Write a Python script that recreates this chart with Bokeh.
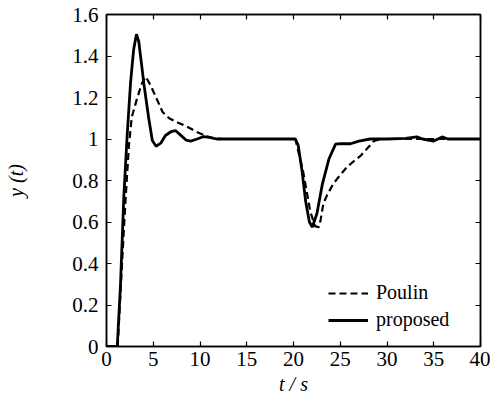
from bokeh.plotting import figure
from bokeh.models import (LinearAxis, FixedTicker, Range1d, Legend, LegendItem)
from bokeh.embed import file_html
from bokeh.resources import INLINE

# ---- data ----
t_proposed = [0, 1.15, 1.5, 1.85, 2.2, 2.57, 2.9, 3.2, 3.45, 3.75, 4.0, 4.5, 4.9, 5.3, 5.8,
              6.3, 6.9, 7.4, 7.9, 8.5, 9.0, 9.7, 10.4, 11.0, 11.8, 20.2, 20.5, 20.9, 21.3,
              21.7, 22.0, 22.5, 23.1, 23.8, 24.5, 25.0, 26.1, 27.0, 28.2, 30, 32, 33.2, 33.8,
              35.0, 35.9, 36.5, 40]
y_proposed = [0, 0, 0.3, 0.72, 1.01, 1.27, 1.43, 1.505, 1.47, 1.36, 1.265, 1.105, 0.993, 0.965,
              0.98, 1.017, 1.035, 1.04, 1.02, 0.995, 0.99, 1.0, 1.012, 1.008, 1.0, 1.0, 0.97,
              0.85, 0.7, 0.6, 0.575, 0.64, 0.785, 0.905, 0.975, 0.978, 0.977, 0.99, 1.0, 1.0,
              1.003, 1.01, 1.0, 0.99, 1.01, 1.0, 1.0]

t_poulin = [0, 1.2, 1.6, 2.0, 2.4, 2.7, 3.3, 3.8, 4.2, 4.7, 5.3, 6.0, 6.7, 7.6, 8.6, 9.6,
            10.6, 11.5, 12.5, 20.2, 21.0, 21.8, 22.3, 22.7, 22.9, 23.2, 23.6, 24.2, 24.7,
            25.7, 26.5, 27.2, 28.0, 28.6, 29.3, 40]
y_poulin = [0, 0, 0.35, 0.68, 0.97, 1.105, 1.2, 1.27, 1.30, 1.26, 1.2, 1.13, 1.10, 1.08, 1.06,
            1.035, 1.015, 1.003, 1.0, 1.0, 0.85, 0.65, 0.58, 0.575, 0.61, 0.69, 0.73, 0.78,
            0.81, 0.864, 0.895, 0.92, 0.96, 0.99, 1.0, 1.0]

x_ticks = [0, 5, 10, 15, 20, 25, 30, 35, 40]
y_ticks = [0, 0.2, 0.4, 0.6, 0.8, 1.0, 1.2, 1.4, 1.6]
y_tick_labels = ["0", "0.2", "0.4", "0.6", "0.8", "1", "1.2", "1.4", "1.6"]

FONT = "'Liberation Serif', 'DejaVu Serif', serif"

p = figure(width=490, height=407, output_backend="svg", toolbar_location=None,
           x_range=Range1d(0, 40), y_range=Range1d(0, 1.6),
           min_border_left=106, min_border_right=10, min_border_top=14, min_border_bottom=61,
           x_axis_type=None, y_axis_type=None)
p.grid.visible = False
p.outline_line_color = "black"
p.outline_line_width = 1.5
p.background_fill_color = "white"
p.border_fill_color = "white"

def style_axis(ax, ticks, labels=True):
    ax.ticker = FixedTicker(ticks=ticks)
    ax.major_tick_in = 5
    ax.major_tick_out = 0
    ax.minor_tick_line_color = None
    ax.axis_line_width = 1.5
    ax.major_tick_line_width = 1.2
    ax.major_label_text_font = FONT
    ax.major_label_text_font_size = "21px"
    ax.major_label_text_color = "black" if labels else None
    ax.major_label_standoff = 8

xb = LinearAxis()
style_axis(xb, x_ticks)
xb.major_label_standoff = 5
xb.axis_label = "t / s"
xb.axis_label_text_font = FONT
xb.axis_label_text_font_style = "italic"
xb.axis_label_text_font_size = "20px"
xb.axis_label_text_color = "black"
xb.axis_label_standoff = 4
p.add_layout(xb, "below")

yl = LinearAxis()
style_axis(yl, y_ticks)
yl.major_label_overrides = {v: s for v, s in zip(y_ticks, y_tick_labels)}
yl.axis_label = "y (t)"
yl.axis_label_text_font = FONT
yl.axis_label_text_font_style = "italic"
yl.axis_label_text_font_size = "20px"
yl.axis_label_text_color = "black"
yl.axis_label_standoff = 42
p.add_layout(yl, "left")

xt = LinearAxis()
style_axis(xt, x_ticks, labels=False)
p.add_layout(xt, "above")
yr = LinearAxis()
style_axis(yr, y_ticks, labels=False)
p.add_layout(yr, "right")

r_poulin = p.line(t_poulin, y_poulin, line_color="black", line_width=2.2, line_dash="7 4")
r_prop = p.line(t_proposed, y_proposed, line_color="black", line_width=2.8)

legend = Legend(items=[LegendItem(label="Poulin", renderers=[r_poulin]),
                       LegendItem(label="proposed", renderers=[r_prop])],
                location=(222, 15), orientation="vertical",
                label_text_font=FONT, label_text_font_size="20px", label_text_color="black",
                glyph_width=40, glyph_height=20, label_standoff=8, spacing=4,
                padding=0, margin=0, border_line_color=None, background_fill_alpha=0)
p.add_layout(legend, "center")

open("out.html", "w").write(file_html(p, INLINE))
